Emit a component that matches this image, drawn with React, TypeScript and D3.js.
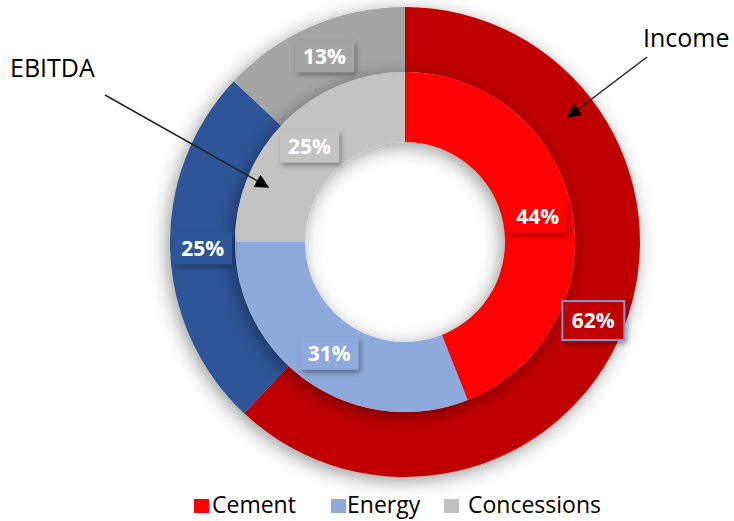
import React from "react";
import * as d3 from "d3";

const categories = ["Cement", "Energy", "Concessions"];
const incomeValues = [62, 25, 13];
const ebitdaValues = [44, 31, 25];
const outerColors = ["#C00000", "#2F5597", "#A5A5A5"];
const innerColors = ["#FF0000", "#8EA9DB", "#C3C3C3"];
const legendColors = ["#FF0000", "#8EA9DB", "#BFBFBF"];

const W = 734;
const H = 521;
const cx = 405;
const cy = 242;
const rOuter = 235;
const rMid = 170;
const rInner = 100;

export default function App() {
  const pie = d3.pie<number>().sort(null).value((d) => d);
  const outerArcs = pie(incomeValues);
  const innerArcs = pie(ebitdaValues);
  const outerArc = d3.arc<d3.PieArcDatum<number>>().innerRadius(rMid).outerRadius(rOuter);
  const innerArc = d3.arc<d3.PieArcDatum<number>>().innerRadius(rInner).outerRadius(rMid);

  const labelFont = "'Open Sans', 'DejaVu Sans', sans-serif";

  const label = (a: d3.PieArcDatum<number>, arc: any, color: string, key: string, border?: boolean) => {
    const [x, y] = arc.centroid(a);
    const bw = border ? 62 : 59;
    const bh = border ? 39 : 32;
    return (
      <g key={key} transform={`translate(${x},${y + (border ? 4 : 0)})`}>
        <rect
          x={-bw / 2}
          y={-bh / 2}
          width={bw}
          height={bh}
          fill={color}
          filter="url(#boxShadow)"
          stroke={border ? "#8496C8" : "none"}
          strokeWidth={border ? 2 : 0}
        />
        <text
          textAnchor="middle"
          dy="0.36em"
          fill="#fff"
          fontFamily={labelFont}
          fontWeight={700}
          fontSize={21}
        >
          {`${a.data}%`}
        </text>
      </g>
    );
  };

  const legendX = [194, 331, 444];
  const legendTextX = [212, 347, 468];

  return (
    <div style={{ position: "absolute", left: 0, top: 0 }}>
      <svg width={W} height={H} style={{ display: "block", background: "#fff" }}>
        <defs>
          <filter id="ringShadow" x="-20%" y="-20%" width="140%" height="140%">
            <feDropShadow dx={-3} dy={4} stdDeviation={9} floodColor="#000" floodOpacity={0.4} />
          </filter>
          <filter id="boxShadow" x="-30%" y="-30%" width="160%" height="170%">
            <feDropShadow dx={2} dy={3} stdDeviation={2.5} floodColor="#000" floodOpacity={0.35} />
          </filter>
          <marker id="arrowBig" viewBox="0 0 10 10" refX={9} refY={5} markerWidth={16} markerHeight={14} orient="auto" markerUnits="userSpaceOnUse">
            <path d="M0,0 L10,5 L0,10 z" fill="#000" />
          </marker>
        </defs>
        <g transform={`translate(${cx},${cy})`}>
          <g filter="url(#ringShadow)">
            {outerArcs.map((a, i) => (
              <path key={`o${i}`} d={outerArc(a) || ""} fill={outerColors[i]} />
            ))}
          </g>
          <g filter="url(#ringShadow)">
            {innerArcs.map((a, i) => (
              <path key={`i${i}`} d={innerArc(a) || ""} fill={innerColors[i]} />
            ))}
          </g>
          {outerArcs.map((a, i) => label(a, outerArc, outerColors[i], `ol${i}`, i === 0))}
          {innerArcs.map((a, i) => label(a, innerArc, innerColors[i], `il${i}`))}
        </g>

        <text x={10} y={77} fontFamily={labelFont} fontSize={25} fill="#000">EBITDA</text>
        <line x1={105} y1={95} x2={268} y2={187} stroke="#222" strokeWidth={1.5} markerEnd="url(#arrowBig)" />

        <text x={643} y={47} fontFamily={labelFont} fontSize={25} fill="#000">Income</text>
        <line x1={647} y1={57} x2={568} y2={117} stroke="#222" strokeWidth={1.5} markerEnd="url(#arrowBig)" />

        {categories.map((c, i) => (
          <g key={c}>
            <rect x={legendX[i]} y={499} width={15} height={14} fill={legendColors[i]} />
            <text x={legendTextX[i]} y={513} fontFamily={labelFont} fontSize={23} fill="#000">{c}</text>
          </g>
        ))}
      </svg>
    </div>
  );
}
